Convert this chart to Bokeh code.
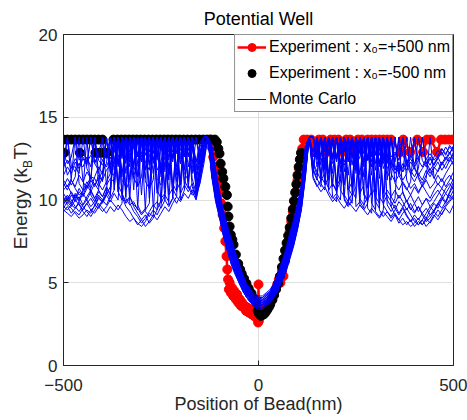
import math
from bokeh.plotting import figure
from bokeh.layouts import row
from bokeh.models import Range1d, FixedTicker, Label, Legend, LegendItem, ColumnDataSource
from bokeh.embed import file_html
from bokeh.resources import INLINE

FONT = "Liberation Sans"

# ---------------- data ----------------
XTICKS = [-500, 0, 500]
YTICKS = [0, 5, 10, 15, 20]

# Monte Carlo position grids (nm)
XL = [-500, -490, -480, -470, -460, -450, -440, -430, -420, -410, -400, -390, -380,
      -370, -360, -350, -340, -330, -320, -310, -300, -290, -280, -270, -260, -250,
      -240, -230, -220, -210, -200, -190, -180, -170, -160, -150, -140]
XW = [-130, -120, -110, -100, -90, -80, -70, -60, -50, -40, -30, -20, -10, 0,
      10, 20, 30, 40, 50, 60, 70, 80, 90, 100, 110, 120, 130]
XR = [140, 150, 160, 170, 180, 190, 200, 210, 220, 230, 240, 250, 260, 270, 280,
      290, 300, 310, 320, 330, 340, 350, 360, 370, 380, 390, 400, 410, 420, 430,
      440, 450, 460, 470, 480, 490, 500]

# Monte Carlo energies (kBT), left tails
L1 = [9.4, 9.2, 9.0, 9.3, 9.1, 9.5, 9.8, 9.4, 9.6, 10.1, 9.9, 10.3, 10.8, 13.8, 10.9, 10.4, 9.9, 10.2, 9.7, 9.5, 9.1, 9.4, 9.8, 13.8, 10.6, 10.1, 10.4, 13.8, 11.0, 10.5, 13.8, 11.2, 10.7, 13.8, 10.6, 11.8, 12.6]
L2 = [10.2, 9.7, 9.5, 9.2, 8.9, 9.1, 9.4, 9.2, 9.7, 9.5, 9.9, 10.4, 13.8, 10.6, 13.8, 10.2, 9.6, 9.3, 8.9, 8.6, 8.4, 8.7, 9.2, 9.0, 13.8, 9.8, 10.3, 9.9, 13.8, 10.6, 11.1, 13.8, 10.8, 10.3, 10.5, 12.2, 13.3]
L3 = [11.8, 13.8, 11.2, 10.7, 10.3, 10.5, 10.9, 11.4, 11.3, 10.8, 11.4, 13.8, 11.7, 13.8, 12.1, 13.8, 11.6, 13.8, 12.0, 11.4, 13.8, 11.8, 13.8, 12.2, 13.8, 11.9, 13.8, 12.4, 13.8, 12.0, 13.8, 12.6, 13.8, 12.1, 11.2, 12.4, 13.8]
L4 = [12.6, 11.5, 12.0, 12.0, 11.6, 13.8, 11.9, 11.4, 10.9, 11.3, 11.7, 12.2, 13.8, 11.8, 13.8, 12.5, 13.8, 12.0, 13.8, 12.7, 13.8, 12.3, 11.8, 13.8, 12.6, 13.8, 11.7, 13.8, 12.3, 13.8, 12.8, 11.9, 13.8, 12.5, 10.9, 11.9, 13.1]
L5 = [9.9, 10.3, 10.0, 9.6, 9.3, 9.7, 10.2, 10.6, 10.1, 9.6, 9.3, 9.6, 10.0, 9.7, 9.4, 9.8, 13.8, 10.2, 9.6, 9.2, 8.8, 9.1, 8.6, 8.9, 9.4, 13.8, 10.0, 9.6, 10.1, 13.8, 10.4, 10.9, 10.5, 11.0, 10.2, 11.4, 12.4]
L6 = [10.6, 10.9, 10.4, 10.0, 10.5, 10.2, 10.7, 11.2, 13.8, 11.0, 10.6, 11.1, 11.6, 11.5, 13.8, 11.2, 10.8, 13.8, 11.3, 10.9, 13.8, 11.1, 10.7, 11.2, 13.8, 11.6, 13.8, 11.2, 13.8, 11.8, 11.3, 13.8, 12.0, 13.8, 11.1, 12.6, 13.8]
L7 = [9.6, 9.4, 9.7, 9.5, 9.8, 9.3, 9.0, 9.4, 9.2, 9.6, 10.0, 9.7, 10.2, 13.8, 10.5, 10.0, 13.8, 9.8, 9.3, 9.0, 8.6, 8.9, 9.3, 9.7, 9.4, 10.0, 13.8, 10.3, 10.7, 10.2, 13.8, 10.8, 13.8, 11.3, 10.4, 11.6, 12.9]
L8 = [11.2, 10.8, 11.3, 13.8, 11.0, 10.6, 11.1, 10.7, 11.4, 12.0, 11.6, 13.8, 11.9, 13.8, 12.3, 13.8, 12.5, 13.8, 12.1, 13.8, 12.6, 13.8, 12.2, 13.8, 12.8, 13.8, 12.4, 13.8, 12.9, 13.8, 12.5, 13.8, 13.0, 13.8, 11.4, 12.8, 13.8]
L9 = [9.3, 9.6, 9.2, 9.5, 9.9, 9.6, 9.3, 9.0, 9.4, 9.8, 9.5, 9.2, 9.6, 9.3, 9.7, 9.4, 9.0, 8.7, 8.9, 8.5, 8.8, 8.4, 8.7, 9.1, 8.8, 9.2, 9.6, 9.3, 9.8, 10.2, 9.9, 10.4, 10.1, 10.6, 10.3, 11.0, 12.2]
L10 = [12.3, 13.8, 12.1, 11.7, 12.2, 12.0, 12.6, 12.0, 13.8, 12.4, 12.1, 12.8, 13.8, 12.3, 13.8, 12.9, 13.8, 12.5, 13.8, 12.2, 13.8, 12.7, 13.8, 12.4, 13.8, 13.0, 13.8, 12.6, 13.8, 12.9, 13.8, 12.7, 13.8, 13.1, 11.8, 13.2, 13.8]
L11 = [10.8, 11.3, 10.9, 11.4, 13.8, 11.1, 10.7, 11.2, 10.8, 11.5, 11.1, 13.8, 11.6, 12.2, 13.8, 11.7, 12.4, 13.8, 11.5, 12.1, 13.8, 11.9, 12.6, 13.8, 11.8, 12.3, 13.8, 12.0, 12.7, 13.8, 12.2, 12.9, 13.8, 12.4, 11.5, 12.9, 13.8]
L12 = [9.8, 10.1, 9.7, 10.4, 10.0, 10.6, 13.8, 10.3, 9.9, 10.5, 10.2, 10.8, 10.4, 13.8, 10.9, 13.8, 10.6, 11.2, 13.8, 10.8, 11.4, 13.8, 10.7, 13.8, 11.3, 10.9, 13.8, 11.5, 13.8, 11.1, 13.8, 11.6, 11.2, 13.8, 10.4, 11.7, 13.2]
L13 = [11.5, 12.0, 11.6, 12.3, 11.9, 12.5, 12.1, 13.8, 12.2, 11.8, 12.4, 12.0, 12.6, 12.2, 13.8, 12.7, 13.8, 12.3, 13.8, 12.8, 12.4, 13.8, 12.9, 13.8, 12.5, 13.8, 12.8, 13.8, 12.6, 13.8, 13.0, 13.8, 12.7, 13.8, 12.0, 13.4, 13.8]
L14 = [10.1, 9.8, 10.3, 9.9, 10.2, 9.7, 10.0, 9.6, 9.9, 10.3, 10.0, 10.5, 10.1, 10.6, 13.8, 10.3, 9.8, 10.1, 13.8, 9.7, 9.2, 9.5, 13.8, 9.6, 9.9, 9.5, 10.0, 13.8, 10.2, 9.8, 10.3, 13.8, 10.9, 10.5, 10.0, 11.1, 12.7]
L15 = [12.8, 12.2, 12.6, 13.8, 12.4, 12.9, 12.3, 12.7, 12.2, 12.8, 13.8, 12.5, 13.0, 13.8, 12.6, 13.1, 13.8, 12.7, 13.2, 13.8, 12.8, 13.3, 13.8, 12.9, 13.2, 13.8, 12.7, 13.3, 13.8, 12.8, 13.4, 13.8, 13.0, 13.4, 12.3, 13.5, 13.8]
L16 = [9.5, 9.9, 9.6, 10.0, 9.7, 9.4, 9.8, 10.1, 9.7, 10.2, 9.8, 10.3, 9.9, 10.4, 10.0, 13.8, 10.1, 9.7, 9.9, 9.4, 13.8, 9.3, 9.0, 9.4, 9.1, 9.6, 13.8, 9.7, 10.1, 13.8, 10.0, 10.6, 13.8, 10.8, 10.1, 11.3, 12.8]
L17 = [11.0, 10.6, 11.2, 10.8, 11.5, 11.1, 11.7, 11.3, 13.8, 11.6, 11.2, 11.8, 12.1, 13.8, 12.0, 13.8, 12.2, 13.8, 11.9, 13.8, 12.3, 13.8, 12.1, 13.8, 12.4, 13.8, 12.0, 13.8, 12.5, 13.8, 12.2, 13.8, 12.6, 13.8, 12.3, 12.8, 13.8]
L18 = [10.4, 10.0, 10.5, 10.1, 10.7, 10.3, 10.9, 10.5, 11.0, 10.6, 13.8, 10.9, 11.3, 11.1, 13.8, 11.4, 13.8, 11.2, 13.8, 11.5, 13.8, 11.3, 13.8, 11.6, 13.8, 11.4, 13.8, 11.7, 13.8, 11.5, 13.8, 11.8, 13.8, 11.6, 13.8, 12.1, 13.6]
L19 = [9.7, 10.2, 9.8, 10.3, 9.9, 10.4, 10.0, 10.5, 10.1, 10.6, 10.2, 10.7, 10.3, 13.8, 10.5, 13.8, 10.2, 13.8, 10.6, 13.8, 10.3, 13.8, 10.1, 13.8, 10.4, 13.8, 10.7, 13.8, 10.5, 13.8, 10.9, 13.8, 11.1, 13.8, 10.8, 11.9, 13.4]
L20 = [12.0, 12.4, 11.9, 12.5, 12.1, 12.6, 12.2, 13.8, 12.3, 12.7, 12.4, 12.8, 12.5, 12.9, 13.8, 12.7, 13.8, 12.9, 13.8, 12.6, 13.8, 13.0, 13.8, 12.8, 13.8, 13.1, 13.8, 12.9, 13.8, 13.2, 13.8, 13.0, 13.8, 13.1, 13.8, 12.6, 13.8]

# Monte Carlo energies, well
W1 = [13.8, 11.4, 9.9, 8.9, 7.8, 6.9, 6.1, 5.5, 5.0, 4.5, 4.1, 3.8, 3.5, 3.4, 3.4, 3.6, 3.8, 4.1, 4.5, 5.1, 5.6, 6.4, 7.2, 8.2, 9.4, 11.3, 13.8]
W2 = [13.8, 11.7, 10.2, 9.1, 8.0, 7.1, 6.3, 5.7, 5.2, 4.6, 4.2, 3.9, 3.6, 3.5, 3.5, 3.7, 3.9, 4.2, 4.7, 5.2, 5.8, 6.6, 7.4, 8.4, 9.6, 11.6, 13.8]
W3 = [13.8, 11.9, 10.4, 9.3, 8.2, 7.3, 6.5, 5.8, 5.3, 4.7, 4.3, 4.0, 3.7, 3.6, 3.6, 3.8, 4.0, 4.3, 4.8, 5.4, 5.9, 6.8, 7.6, 8.6, 9.8, 11.8, 13.8]
W4 = [13.8, 12.2, 10.7, 9.5, 8.4, 7.5, 6.7, 6.0, 5.5, 4.9, 4.4, 4.1, 3.8, 3.7, 3.7, 3.9, 4.1, 4.4, 4.9, 5.5, 6.1, 7.0, 7.8, 8.8, 10.0, 12.1, 13.8]
W5 = [13.8, 12.4, 10.9, 9.7, 8.6, 7.7, 6.9, 6.2, 5.6, 5.0, 4.5, 4.2, 3.9, 3.8, 3.8, 4.0, 4.2, 4.6, 5.1, 5.7, 6.3, 7.2, 8.0, 9.0, 10.2, 12.3, 13.8]
W6 = [13.8, 12.7, 11.2, 9.9, 8.8, 7.9, 7.1, 6.4, 5.8, 5.1, 4.6, 4.3, 4.0, 3.9, 3.9, 4.1, 4.3, 4.7, 5.2, 5.8, 6.5, 7.4, 8.2, 9.2, 10.4, 12.6, 13.8]
W7 = [13.8, 12.9, 11.4, 10.1, 9.0, 8.1, 7.3, 6.6, 5.9, 5.3, 4.7, 4.4, 4.1, 4.0, 4.0, 4.2, 4.4, 4.8, 5.3, 6.0, 6.7, 7.6, 8.4, 9.4, 10.6, 12.8, 13.8]
W8 = [13.8, 13.2, 11.7, 10.3, 9.2, 8.3, 7.5, 6.7, 6.1, 5.4, 4.8, 4.5, 4.2, 4.1, 4.1, 4.3, 4.5, 4.9, 5.4, 6.1, 6.8, 7.8, 8.6, 9.6, 10.8, 13.1, 13.8]
W9 = [13.8, 13.4, 11.9, 10.5, 9.4, 8.5, 7.7, 6.9, 6.2, 5.5, 4.9, 4.6, 4.3, 4.2, 4.2, 4.4, 4.6, 5.0, 5.6, 6.3, 7.0, 8.0, 8.8, 9.8, 11.0, 13.3, 13.8]
W10 = [13.8, 12.3, 10.8, 9.6, 8.5, 7.6, 6.8, 6.1, 5.5, 5.0, 4.5, 4.1, 3.9, 3.8, 3.8, 3.9, 4.2, 4.5, 5.0, 5.6, 6.2, 7.1, 7.9, 8.9, 10.1, 12.2, 13.8]
W11 = [13.8, 11.6, 10.0, 9.0, 7.9, 7.0, 6.2, 5.6, 5.1, 4.5, 4.1, 3.8, 3.6, 3.5, 3.4, 3.6, 3.9, 4.2, 4.6, 5.2, 5.7, 6.5, 7.3, 8.3, 9.5, 11.4, 13.8]
W12 = [13.8, 12.0, 10.6, 9.4, 8.3, 7.4, 6.6, 5.9, 5.4, 4.8, 4.3, 4.0, 3.8, 3.7, 3.6, 3.8, 4.1, 4.4, 4.9, 5.4, 6.0, 6.9, 7.7, 8.7, 9.9, 11.9, 13.8]
W13 = [13.8, 12.5, 11.0, 9.8, 8.7, 7.8, 7.0, 6.3, 5.7, 5.0, 4.6, 4.2, 3.9, 3.8, 3.8, 4.0, 4.3, 4.6, 5.1, 5.7, 6.4, 7.3, 8.1, 9.1, 10.3, 12.4, 13.8]
W14 = [13.8, 12.8, 11.3, 10.0, 8.9, 8.0, 7.2, 6.5, 5.8, 5.2, 4.7, 4.3, 4.1, 4.0, 3.9, 4.1, 4.4, 4.7, 5.2, 5.9, 6.6, 7.5, 8.3, 9.3, 10.5, 12.7, 13.8]
W15 = [13.8, 13.0, 11.5, 10.2, 9.1, 8.2, 7.4, 6.6, 6.0, 5.3, 4.8, 4.5, 4.2, 4.1, 4.0, 4.2, 4.5, 4.8, 5.4, 6.0, 6.7, 7.7, 8.5, 9.5, 10.7, 12.9, 13.8]
W16 = [13.8, 11.8, 10.3, 9.2, 8.1, 7.2, 6.4, 5.7, 5.2, 4.7, 4.2, 3.9, 3.7, 3.6, 3.5, 3.7, 4.0, 4.3, 4.7, 5.3, 5.8, 6.7, 7.5, 8.5, 9.7, 11.7, 13.8]
W17 = [13.8, 12.1, 10.6, 9.5, 8.4, 7.5, 6.7, 6.0, 5.4, 4.8, 4.4, 4.0, 3.8, 3.7, 3.7, 3.8, 4.1, 4.5, 5.0, 5.6, 6.2, 7.1, 7.8, 8.8, 10.0, 12.0, 13.8]
W18 = [13.8, 12.6, 11.1, 9.9, 8.8, 7.9, 7.0, 6.3, 5.7, 5.1, 4.6, 4.3, 4.0, 3.9, 3.9, 4.1, 4.3, 4.7, 5.2, 5.8, 6.5, 7.4, 8.2, 9.2, 10.4, 12.5, 13.8]
W19 = [13.8, 11.5, 10.1, 9.0, 7.9, 7.0, 6.2, 5.6, 5.0, 4.5, 4.1, 3.8, 3.6, 3.5, 3.5, 3.7, 3.9, 4.2, 4.6, 5.1, 5.7, 6.5, 7.3, 8.3, 9.5, 11.5, 13.8]
W20 = [13.8, 13.1, 11.6, 10.3, 9.2, 8.3, 7.5, 6.7, 6.1, 5.4, 4.8, 4.5, 4.2, 4.1, 4.1, 4.3, 4.5, 4.9, 5.5, 6.1, 6.9, 7.8, 8.6, 9.6, 10.8, 13.0, 13.8]

# Monte Carlo energies, right tails
R1 = [11.6, 13.8, 11.0, 10.6, 13.8, 10.2, 9.9, 13.8, 10.1, 9.7, 13.8, 9.6, 9.9, 13.8, 9.5, 9.2, 13.8, 9.4, 9.0, 9.3, 8.9, 9.2, 8.8, 8.5, 8.7, 8.4, 8.6, 8.9, 8.5, 8.8, 9.1, 9.3, 9.0, 9.4, 9.7, 10.0, 10.3]
R2 = [12.2, 11.5, 13.8, 11.2, 10.7, 13.8, 10.4, 10.0, 13.8, 10.3, 9.8, 13.8, 9.7, 9.4, 9.8, 13.8, 9.3, 9.0, 9.4, 13.8, 9.6, 9.1, 8.8, 9.2, 9.5, 9.1, 8.7, 8.5, 8.8, 9.2, 9.6, 9.3, 9.7, 10.1, 9.8, 10.4, 10.9]
R3 = [13.8, 12.4, 13.8, 12.0, 13.8, 12.5, 13.8, 11.9, 13.8, 12.3, 13.8, 11.8, 13.8, 12.2, 13.8, 12.6, 13.8, 12.0, 13.8, 11.7, 11.2, 13.8, 11.5, 11.0, 10.6, 11.1, 13.8, 11.3, 10.8, 11.2, 10.7, 11.0, 11.5, 11.1, 11.6, 12.0, 12.4]
R4 = [12.6, 13.8, 12.1, 13.8, 11.6, 13.8, 12.3, 13.8, 11.7, 13.8, 12.1, 13.8, 11.5, 13.8, 12.4, 13.8, 11.8, 13.8, 12.2, 13.8, 11.6, 11.1, 11.5, 13.8, 11.2, 10.7, 11.0, 10.5, 10.9, 11.3, 13.8, 11.4, 10.9, 11.3, 10.8, 11.2, 11.7]
R5 = [11.9, 11.3, 10.8, 13.8, 10.5, 10.1, 10.4, 13.8, 10.0, 9.6, 10.0, 13.8, 9.9, 9.5, 13.8, 9.8, 9.4, 13.8, 9.7, 9.3, 9.0, 9.4, 9.9, 9.6, 10.0, 9.5, 9.2, 9.6, 9.1, 8.7, 8.9, 9.3, 9.8, 10.2, 9.9, 10.5, 11.1]
R6 = [13.8, 12.8, 13.8, 12.3, 13.8, 12.7, 13.8, 12.2, 13.8, 12.9, 13.8, 12.4, 13.8, 12.8, 13.8, 12.3, 13.8, 12.7, 13.8, 12.2, 13.8, 11.8, 12.3, 11.9, 12.4, 11.8, 11.4, 11.9, 13.8, 12.1, 11.6, 12.0, 11.7, 12.2, 12.6, 12.3, 12.8]
R7 = [12.0, 13.8, 11.4, 11.0, 13.8, 10.8, 13.8, 10.6, 10.2, 13.8, 10.5, 10.1, 13.8, 10.3, 9.9, 13.8, 10.2, 9.8, 13.8, 10.0, 9.6, 10.1, 13.8, 10.4, 9.9, 9.4, 9.8, 9.3, 9.7, 10.1, 9.6, 9.9, 10.3, 10.7, 10.4, 10.8, 11.3]
R8 = [13.8, 12.5, 13.8, 12.9, 13.8, 12.4, 13.8, 12.8, 13.8, 12.3, 13.8, 12.7, 13.8, 12.2, 13.8, 12.6, 13.8, 12.1, 13.8, 12.5, 12.0, 13.8, 11.7, 11.2, 11.6, 13.8, 11.9, 11.4, 11.0, 11.5, 11.9, 11.3, 11.8, 12.3, 11.9, 12.4, 12.9]
R9 = [11.4, 10.9, 10.5, 10.8, 10.3, 9.9, 10.2, 9.8, 9.5, 9.9, 9.6, 9.3, 9.7, 9.4, 9.1, 9.5, 9.2, 8.9, 9.3, 9.0, 8.7, 9.1, 8.6, 8.9, 8.5, 8.8, 8.4, 8.7, 8.5, 8.9, 8.6, 9.0, 9.4, 9.1, 9.6, 9.9, 10.2]
R10 = [13.8, 13.2, 13.8, 12.9, 13.8, 13.3, 13.8, 12.8, 13.8, 13.1, 13.8, 12.9, 13.8, 13.2, 13.8, 12.8, 13.8, 13.0, 13.8, 12.6, 13.8, 12.3, 13.8, 12.7, 12.2, 12.6, 13.8, 12.4, 12.0, 12.5, 12.1, 12.6, 13.0, 12.7, 13.2, 12.8, 13.3]
R11 = [12.9, 13.8, 12.4, 12.8, 13.8, 12.2, 12.7, 13.8, 12.3, 12.9, 13.8, 12.1, 12.6, 13.8, 12.4, 12.8, 13.8, 12.2, 12.7, 13.8, 12.0, 11.6, 12.1, 11.7, 13.8, 11.5, 11.1, 11.6, 11.2, 11.8, 11.4, 11.9, 12.3, 11.8, 12.2, 12.6, 12.1]
R12 = [11.8, 11.2, 13.8, 10.9, 11.4, 13.8, 10.8, 11.3, 13.8, 10.6, 11.1, 13.8, 10.4, 10.9, 13.8, 10.3, 10.8, 13.8, 10.1, 10.6, 10.2, 9.8, 10.3, 9.9, 9.4, 9.8, 9.3, 9.6, 9.2, 9.5, 9.1, 9.4, 9.8, 9.5, 9.9, 10.3, 10.0]
R13 = [13.8, 13.1, 12.6, 13.8, 12.9, 13.8, 12.5, 13.8, 13.0, 13.8, 12.6, 13.8, 12.9, 13.8, 12.4, 13.8, 12.8, 13.8, 12.5, 13.8, 12.3, 12.8, 12.4, 13.8, 12.1, 12.5, 12.0, 12.4, 13.8, 12.2, 12.6, 12.1, 12.5, 12.9, 12.4, 12.8, 13.2]
R14 = [12.3, 11.7, 11.2, 11.6, 13.8, 11.0, 10.6, 11.1, 13.8, 10.7, 10.3, 10.8, 13.8, 10.4, 10.0, 10.5, 13.8, 10.2, 9.8, 10.3, 9.9, 9.5, 9.1, 9.5, 9.0, 8.7, 9.1, 8.8, 9.2, 8.9, 9.4, 9.8, 9.5, 10.0, 10.4, 10.1, 10.6]
R15 = [13.8, 12.7, 13.8, 12.2, 12.8, 13.8, 12.4, 13.8, 12.1, 12.7, 13.8, 12.3, 13.8, 12.0, 12.6, 13.8, 12.2, 13.8, 11.9, 12.5, 13.8, 12.1, 11.6, 12.2, 11.8, 12.3, 11.9, 13.8, 12.4, 12.0, 12.5, 12.1, 12.6, 13.1, 12.7, 13.3, 13.0]
R16 = [11.3, 10.8, 11.2, 13.8, 10.6, 11.0, 10.5, 13.8, 10.3, 9.9, 10.4, 13.8, 10.1, 9.7, 10.2, 13.8, 9.9, 9.5, 13.8, 9.7, 9.3, 9.7, 9.2, 9.6, 9.1, 8.7, 8.9, 8.5, 8.8, 8.4, 8.7, 9.1, 8.8, 9.2, 9.5, 9.2, 9.7]
R17 = [13.8, 12.6, 13.8, 12.3, 13.8, 12.5, 13.8, 12.2, 13.8, 12.4, 13.8, 12.1, 13.8, 12.3, 13.8, 12.0, 13.8, 12.2, 13.8, 11.9, 12.3, 11.8, 12.2, 11.7, 12.1, 11.6, 12.0, 11.5, 11.9, 12.3, 11.8, 12.2, 12.6, 12.1, 12.5, 12.9, 12.4]
R18 = [11.7, 13.8, 11.4, 13.8, 11.2, 13.8, 11.0, 13.8, 10.9, 13.8, 10.8, 13.8, 10.6, 13.8, 10.7, 13.8, 10.5, 13.8, 10.4, 13.8, 10.2, 10.6, 10.1, 10.5, 9.9, 10.3, 9.8, 10.2, 9.7, 10.1, 9.9, 10.3, 10.6, 10.2, 10.7, 11.0, 10.6]
R19 = [13.8, 12.0, 13.8, 11.8, 13.8, 11.6, 13.8, 11.7, 13.8, 11.5, 13.8, 11.6, 13.8, 11.4, 13.8, 11.5, 13.8, 11.3, 13.8, 11.2, 13.8, 11.0, 10.6, 11.1, 10.7, 10.3, 10.8, 10.4, 10.9, 10.5, 10.1, 10.6, 11.0, 10.7, 11.2, 11.5, 11.1]
R20 = [12.9, 13.8, 12.7, 13.8, 12.8, 13.8, 12.6, 13.8, 12.9, 13.8, 12.5, 13.8, 12.8, 13.8, 12.6, 13.8, 12.7, 13.8, 12.4, 13.8, 12.6, 12.9, 12.4, 13.8, 12.3, 12.7, 12.2, 12.6, 12.9, 12.5, 12.8, 12.4, 12.7, 13.1, 12.8, 13.2, 12.9]

# Experiment x0 = +500 nm (red)
RED_X = [-124, -120, -116, -112, -108, -104, -100, -96, -92, -88,
         -85, -82, -80, -78, -76, -74, -71, -68, -65, -62,
         -58, -55, -52, -48, -45, -42, -38, -35, -32, -28,
         -25, -22, -18, -15, -12, -9, -6, -3, -1, 0,
         1, 3, 6, 9, 12, 16, 20, 24, 28, 32,
         36, 40, 44, 48, 52, 56, 60, 64, 68, 72,
         76, 80, 84, 88, 92, 96, 100, 104, 108, 112,
         116, 125, 135, 145, 155, 165, 175, 185, 195, 205,
         215, 225, 235, 245, 255, 265, 280, 290, 300, 310,
         320, 330, 340, 364, 371, 389, 407, 422, 432, 442,
         458, 468, 478, 488, 497]
RED_E = [13.65, 13.2, 12.6, 12.0, 11.4, 10.9, 10.4, 9.8, 9.1, 8.3,
         7.5, 6.6, 5.8, 5.2, 4.6, 5.0, 4.4, 4.7, 4.2, 4.5,
         4.0, 4.3, 3.8, 4.0, 3.6, 3.8, 3.5, 3.6, 3.3, 3.5,
         3.2, 3.4, 3.1, 3.3, 3.0, 3.2, 2.9, 3.1, 2.6, 4.9,
         2.7, 3.3, 3.0, 3.4, 3.2, 3.5, 3.4, 3.7, 3.6, 3.9,
         4.0, 4.3, 4.6, 4.9, 5.2, 5.0, 5.7, 5.4, 6.3, 6.9,
         7.5, 8.1, 8.7, 9.3, 9.9, 10.5, 11.2, 11.9, 12.5, 13.1,
         13.65, 13.65, 13.65, 12.9, 13.65, 13.65, 12.9, 13.65, 13.65, 13.65,
         12.9, 13.65, 13.65, 12.9, 13.65, 13.65, 13.65, 13.65, 13.65, 13.65,
         13.65, 13.65, 13.65, 12.9, 13.65, 12.9, 13.65, 12.9, 13.65, 13.65,
         12.9, 13.65, 13.65, 13.65, 13.65]

# Experiment x0 = -500 nm (black)
BLK_TOP_X = [-500, -490, -480, -470, -460, -450, -440, -430, -420, -410, -400,
             -372, -362, -352, -342, -332, -322, -312, -302, -292, -282, -272,
             -262, -252, -242, -232, -222, -212, -202, -192, -182, -172, -162,
             -152, -142, -132, -122, -112]
BLK_TOP_E = [13.65, 13.65, 13.65, 13.65, 13.65, 13.65, 13.65, 13.65, 13.65, 13.65, 13.65,
             13.65, 13.65, 13.65, 13.65, 13.65, 13.65, 13.65, 13.65, 13.65, 13.65, 13.65,
             13.65, 13.65, 13.65, 13.65, 13.65, 13.65, 13.65, 13.65, 13.65, 13.65, 13.65,
             13.65, 13.65, 13.65, 13.65, 13.65]
BLK_ROW2_X = [-498, -458, -418, -408, -398, -388]
BLK_ROW2_E = [12.85, 12.85, 12.85, 12.85, 12.85, 12.85]
BLK_WELL_X = [-107, -103, -100, -97, -93, -90, -85, -81, -79, -77, -74, -71, -67, -64,
              -58, -52, -47, -43, -37, -31, -25, -18, -12, -5, -2, 2, 6, 10, 14,
              18, 22, 26, 30, 35, 40, 45, 50, 55, 60, 64, 68, 72, 76, 80, 84, 88,
              91, 94, 97, 100, 103, 106, 109]
BLK_WELL_E = [13.5, 13.1, 12.8, 12.2, 11.7, 11.3, 10.8, 10.3, 9.6, 9.0, 8.4, 7.9, 7.6, 7.3,
              6.7, 6.15, 5.8, 5.55, 5.25, 4.96, 4.65, 4.36, 4.05, 3.77, 3.3, 3.1, 3.0, 3.05, 3.1,
              3.2, 3.35, 3.5, 3.7, 3.95, 4.25, 4.6, 4.95, 5.4, 5.95, 6.45, 6.95, 7.4, 7.85, 8.35, 8.9, 9.45,
              9.95, 10.45, 10.95, 11.5, 12.0, 12.45, 12.85]

TITLE = "Potential Well"
XLABEL = "Position of Bead(nm)"
YLABEL_PARTS = ["Energy (k", "B", "T)"]
LABEL_RED = "Experiment : x\u2080=+500 nm"
LABEL_BLK = "Experiment : x\u2080=-500 nm"
LABEL_MC = "Monte Carlo"

# ---------------- assemble ----------------
MC_LEFT = [L1, L2, L3, L4, L5, L6, L7, L8, L9, L10, L11, L12, L13, L14, L15, L16, L17, L18, L19, L20]
MC_WELL = [W1, W2, W3, W4, W5, W6, W7, W8, W9, W10, W11, W12, W13, W14, W15, W16, W17, W18, W19, W20]
MC_RIGHT = [R1, R2, R3, R4, R5, R6, R7, R8, R9, R10, R11, R12, R13, R14, R15, R16, R17, R18, R19, R20]
for a in MC_LEFT:
    assert len(a) == len(XL), len(a)
for a in MC_WELL:
    assert len(a) == len(XW), len(a)
for a in MC_RIGHT:
    assert len(a) == len(XR), len(a)
assert len(RED_X) == len(RED_E)
assert len(BLK_TOP_X) == len(BLK_TOP_E)
assert len(BLK_WELL_X) == len(BLK_WELL_E)

mc_src = ColumnDataSource(dict(
    xs=[XL + XW + XR for _ in MC_LEFT],
    ys=[l + w + r for l, w, r in zip(MC_LEFT, MC_WELL, MC_RIGHT)],
))
red_src = ColumnDataSource(dict(x=RED_X, y=RED_E))
blk_src = ColumnDataSource(dict(x=BLK_TOP_X + BLK_ROW2_X + BLK_WELL_X,
                                y=BLK_TOP_E + BLK_ROW2_E + BLK_WELL_E))

# ---------------- main figure ----------------
p = figure(width=432, height=420, output_backend="svg", toolbar_location=None,
           x_range=Range1d(-500, 500), y_range=Range1d(0, 20),
           min_border_left=26, min_border_right=14, min_border_top=29, min_border_bottom=55)
p.background_fill_color = "white"
p.border_fill_color = "white"
p.outline_line_color = "#262626"
p.outline_line_width = 1

p.title.text = TITLE
p.title.align = "center"
p.title.text_font = FONT
p.title.text_font_size = "18px"
p.title.text_font_style = "normal"
p.title.text_color = "#000000"
p.title.standoff = 12

p.xaxis.ticker = FixedTicker(ticks=XTICKS)
p.yaxis.ticker = FixedTicker(ticks=YTICKS)
for ax in (p.xaxis[0], p.yaxis[0]):
    ax.axis_line_color = "#262626"
    ax.major_tick_line_color = "#262626"
    ax.major_tick_in = 5
    ax.major_tick_out = 0
    ax.minor_tick_line_color = None
    ax.major_label_text_font = FONT
    ax.major_label_text_font_size = "17px"
    ax.major_label_text_color = "#262626"
p.xaxis.major_label_standoff = 13
p.yaxis.major_label_standoff = 6
p.xaxis.axis_label = XLABEL
p.xaxis.axis_label_standoff = 0
p.xaxis.axis_label_text_font = FONT
p.xaxis.axis_label_text_font_size = "18px"
p.xaxis.axis_label_text_font_style = "normal"
p.xaxis.axis_label_text_color = "#262626"
p.grid.grid_line_color = "#dfdfdf"
p.grid.grid_line_width = 1

red_line = p.line("x", "y", source=red_src, line_color="#ff0000", line_width=2.5)
red_pts = p.scatter("x", "y", source=red_src, size=9, fill_color="#ff0000", line_color="#ff0000")
blk_pts = p.scatter("x", "y", source=blk_src, size=9, fill_color="#000000", line_color="#000000")
mc = p.multi_line("xs", "ys", source=mc_src, line_color="#0000ff", line_width=1)

legend = Legend(items=[
    LegendItem(label=LABEL_RED, renderers=[red_line, red_pts]),
    LegendItem(label=LABEL_BLK, renderers=[blk_pts]),
    LegendItem(label=LABEL_MC, renderers=[mc]),
])
legend.location = "top_right"
legend.margin = 0
legend.padding = 2
legend.spacing = 6
legend.glyph_width = 29
legend.glyph_height = 20
legend.label_height = 20
legend.label_standoff = 3
legend.label_text_font = FONT
legend.label_text_font_size = "16px"
legend.label_text_color = "#000000"
legend.border_line_color = "#262626"
legend.border_line_width = 1
legend.background_fill_color = "white"
legend.background_fill_alpha = 1
p.add_layout(legend)

# ---------------- y label panel (subscript needs separate runs) ----------------
ylab = figure(width=35, height=420, output_backend="svg", toolbar_location=None,
              x_range=Range1d(0, 35), y_range=Range1d(55, 391),
              x_axis_location=None, y_axis_location=None,
              min_border_left=0, min_border_right=0, min_border_top=29, min_border_bottom=55)
ylab.outline_line_color = None
ylab.background_fill_color = "white"
ylab.border_fill_color = "white"
for g in ylab.grid:
    g.visible = False
ang = math.pi / 2
ylab.add_layout(Label(x=20, y=173, text=YLABEL_PARTS[0], text_font=FONT, text_font_size="19px",
                      text_color="#262626", text_align="left", text_baseline="alphabetic", angle=ang))
ylab.add_layout(Label(x=27, y=255.5, text=YLABEL_PARTS[1], text_font=FONT, text_font_size="12px",
                      text_color="#262626", text_align="left", text_baseline="alphabetic", angle=ang))
ylab.add_layout(Label(x=20, y=264, text=YLABEL_PARTS[2], text_font=FONT, text_font_size="19px",
                      text_color="#262626", text_align="left", text_baseline="alphabetic", angle=ang))

page = row(ylab, p, spacing=0)

open("out.html", "w").write(file_html(page, INLINE))
